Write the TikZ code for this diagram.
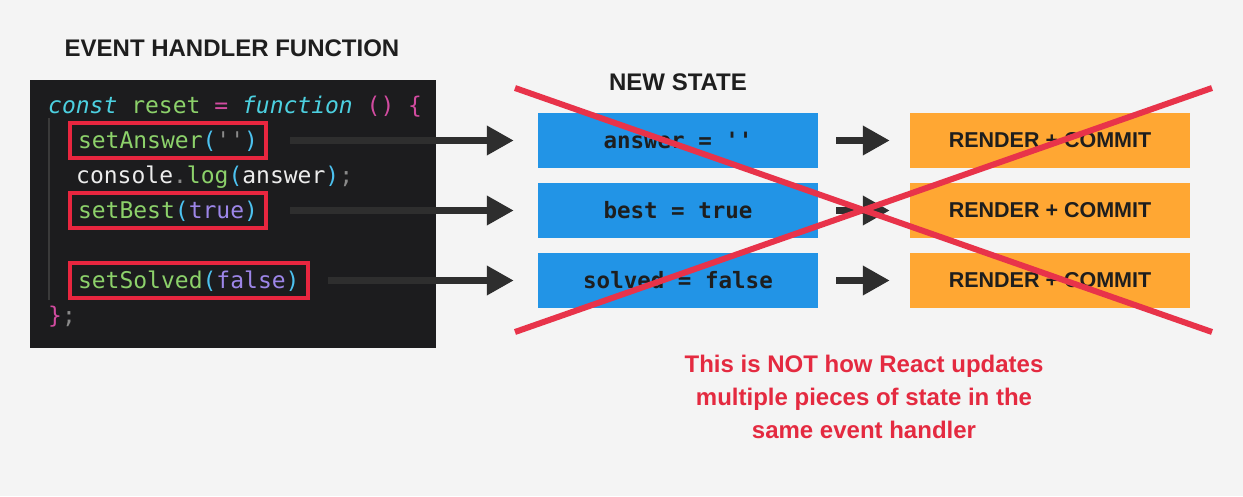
\documentclass[tikz,border=0pt]{standalone}
\usepackage{fontspec}
\usetikzlibrary{arrows.meta,calc}
\setmainfont{Liberation Sans}
\newfontfamily\codefont{DejaVu Sans Mono}
\definecolor{bg}{HTML}{F4F4F4}
\definecolor{codebg}{HTML}{1C1C1E}
\definecolor{hlred}{HTML}{E8263F}
\definecolor{crossred}{HTML}{E8334A}
\definecolor{warnred}{HTML}{E42A40}
\definecolor{sblue}{HTML}{2294E6}
\definecolor{sorange}{HTML}{FFA733}
\definecolor{arrowc}{HTML}{2E2E2E}
\definecolor{darktext}{HTML}{1E1E1E}
\definecolor{ccyan}{HTML}{4CD0E0}
\definecolor{cgreen}{HTML}{8CD16A}
\definecolor{cmag}{HTML}{D24BA0}
\definecolor{cblue}{HTML}{4CC2F0}
\definecolor{cpurple}{HTML}{9D86E8}
\definecolor{cwhite}{HTML}{ECECEC}
\definecolor{cgray}{HTML}{8A8A8A}
\definecolor{guidec}{HTML}{3A3A3A}
\begin{document}
\begin{tikzpicture}[x=1pt,y=-1pt,
  codeline/.style={anchor=base west, inner xsep=8pt, inner ysep=8pt, text height=17pt, text depth=2pt, font=\codefont\fontsize{23}{28}\selectfont},
  hl/.style={draw=hlred, line width=4pt},
  bigarrow/.style={draw=arrowc, line width=7pt, -{Triangle[length=27pt,width=28pt]}},
  statebox/.style={fill=sblue, minimum width=280pt, minimum height=55pt, inner sep=0pt, text=darktext, font=\codefont\bfseries\fontsize{22.5}{27}\selectfont},
  renderbox/.style={fill=sorange, minimum width=280pt, minimum height=55pt, inner sep=0pt, text=darktext, font=\bfseries\fontsize{21.5}{26}\selectfont},
  heading/.style={text=darktext, font=\bfseries\fontsize{24}{28}\selectfont},
  cross/.style={draw=crossred, line width=6pt}
]
\useasboundingbox (0,0) rectangle (1243,496);
\fill[bg] (0,0) rectangle (1243,496);

\node[heading] (title) at (232,48) {EVENT HANDLER FUNCTION};
\node[heading] (newstate) at (678,82) {NEW STATE};

\node[fill=codebg, minimum width=406pt, minimum height=268pt, inner sep=0pt] (code) at (233,214) {};
\draw[guidec, line width=1.5pt] (49,118) -- (49,300);

\node[codeline] (l1) at (40,113) {\textcolor{ccyan}{\itshape const} \textcolor{cgreen}{reset} \textcolor{cmag}{=} \textcolor{ccyan}{\itshape function} \textcolor{cmag}{() \{}};
\node[codeline, hl] (l2) at (68,148) {\textcolor{cgreen}{setAnswer}\textcolor{cblue}{(}\textcolor{cgray}{\symbol{39}\symbol{39}}\textcolor{cblue}{)}};
\node[codeline] (l3) at (68,183) {\textcolor{cwhite}{console}\textcolor{cgray}{.}\textcolor{cgreen}{log}\textcolor{cblue}{(}\textcolor{cwhite}{answer}\textcolor{cblue}{)}\textcolor{cgray}{;}};
\node[codeline, hl] (l4) at (68,218) {\textcolor{cgreen}{setBest}\textcolor{cblue}{(}\textcolor{cpurple}{true}\textcolor{cblue}{)}};
\node[codeline, hl] (l6) at (68,288) {\textcolor{cgreen}{setSolved}\textcolor{cblue}{(}\textcolor{cpurple}{false}\textcolor{cblue}{)}};
\node[codeline] (l7) at (40,323) {\textcolor{cmag}{\}}\textcolor{cgray}{;}};

\node[statebox] (b1) at (678,140.5) {answer = \symbol{39}\symbol{39}};
\node[statebox] (b2) at (678,210.5) {best = true};
\node[statebox] (b3) at (678,280.5) {solved = false};

\node[renderbox] (o1) at (1050,140.5) {RENDER + COMMIT};
\node[renderbox] (o2) at (1050,210.5) {RENDER + COMMIT};
\node[renderbox] (o3) at (1050,280.5) {RENDER + COMMIT};

\draw[bigarrow, shorten >=24pt] ([xshift=22pt]l2.east) -- (b1.west);
\draw[bigarrow, shorten >=24pt] ([xshift=22pt]l4.east) -- (b2.west);
\draw[bigarrow, shorten >=24pt] ([xshift=18pt]l6.east) -- (b3.west);

\draw[bigarrow, shorten <=18pt, shorten >=20pt] (b1.east) -- (o1.west);
\draw[bigarrow, shorten <=18pt, shorten >=20pt] (b2.east) -- (o2.west);
\draw[bigarrow, shorten <=18pt, shorten >=20pt] (b3.east) -- (o3.west);

\coordinate (c1) at (515,88);
\coordinate (c2) at (1212,332);
\coordinate (c3) at (515,332);
\coordinate (c4) at (1212,88);
\draw[cross] (c1) -- (c2);
\draw[cross] (c3) -- (c4);

\node[text=warnred, align=center, font=\bfseries\fontsize{24}{33}\selectfont] (warn) at (864,397) {This is NOT how React updates\\multiple pieces of state in the\\same event handler};
\end{tikzpicture}
\end{document}
